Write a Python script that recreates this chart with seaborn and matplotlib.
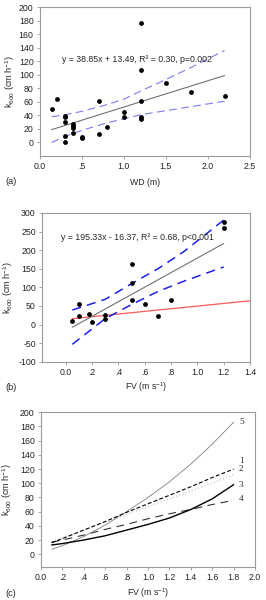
import numpy as np
import pandas as pd
import matplotlib
matplotlib.use("Agg")
from matplotlib import pyplot as plt
import seaborn as sns

# ---- panel (a): k600 vs water depth
wd = [0.14, 0.2, 0.3, 0.3, 0.3, 0.3, 0.3, 0.4, 0.4, 0.4, 0.4, 0.5, 0.5,
      0.7, 0.7, 0.8, 1.0, 1.0, 1.2, 1.2, 1.2, 1.2, 1.2, 1.5, 1.8, 2.2]
k_a = [49, 65, 39, 37, 31, 9, 1, 28, 25, 22, 14, 8, 6,
       62, 13, 23, 45, 37, 177, 107, 62, 37, 35, 88, 75, 69]
fit_a_x = [0.14, 2.2]
fit_a_y = [19, 99]
band_a_x = [0.14, 0.3, 0.5, 0.8, 1.0, 1.2, 1.5, 1.8, 2.2]
band_a_hi = [38, 41, 46, 56, 64, 76, 93, 111, 136]
band_a_lo = [0, 9, 18, 29, 35, 41, 47, 53, 61]
eq_a = "y = 38.85x + 13.49, R\u00b2 = 0.30, p=0.002"

# ---- panel (b): k600 vs flow velocity
fv = [0.05, 0.1, 0.1, 0.18, 0.2, 0.3, 0.3, 0.5, 0.5, 0.5, 0.6, 0.7, 0.8, 1.2, 1.2]
k_b = [9, 56, 22, 29, 6, 27, 14, 164, 113, 65, 55, 22, 67, 276, 261]
fit_b_x = [0.05, 1.2]
fit_b_y = [-7, 218]
band_b_x = [0.05, 0.3, 0.5, 0.7, 0.9, 1.2]
band_b_hi = [39, 68, 110, 150, 197, 281]
band_b_lo = [-53, 16, 54, 89, 117, 155]
red_x = [0.05, 1.4]
red_y = [16, 64]
eq_b = "y = 195.33x - 16.37, R\u00b2 = 0.68, p<0.001"

# ---- panel (c): model curves
fv_c = [0.1, 0.2, 0.4, 0.6, 0.8, 1.0, 1.2, 1.4, 1.6, 1.8]
c1 = [16, 22, 34, 46, 59, 71, 83, 95, 108, 120]
c2 = [18, 23, 34, 45, 56, 67, 78, 89, 100, 112]
c3 = [13, 15, 20, 26, 34, 42, 51, 63, 78, 98]
c4 = [17, 20, 27, 35, 42, 50, 57, 63, 70, 76]
c5 = [7, 12, 25, 41, 60, 80, 102, 127, 155, 186]
curve_names = ["1", "2", "3", "4", "5"]
curve_label_y = [131, 120, 98, 78, 186]

sns.set_style("ticks")
plt.rcParams['font.family'] = ['Liberation Sans', 'DejaVu Sans']
plt.rcParams['mathtext.fontset'] = 'custom'
plt.rcParams['mathtext.rm'] = 'Liberation Sans'
plt.rcParams['mathtext.it'] = 'Liberation Sans'

FS = 6.3
ylab = "k$_{600}$ (cm h$^{-1}$)"


def style(ax):
    for s in ax.spines.values():
        s.set_color('#9a9a9a')
        s.set_linewidth(0.8)
    ax.tick_params(colors='#9a9a9a', labelcolor='#222222', labelsize=FS,
                   length=2.5, width=0.6, pad=2)


def ticks(ax, xt, xl, yt):
    ax.set_xticks(xt)
    ax.set_xticklabels(xl)
    ax.set_yticks(yt)
    ax.set_yticklabels([str(v) for v in yt])


fig = plt.figure(figsize=(2.66, 6.0), dpi=100)

# (a)
ax = fig.add_axes([0.150, 0.740, 0.789, 0.248])
sns.lineplot(x=band_a_x, y=band_a_hi, ax=ax, color='#7a7af2', linewidth=0.8,
             linestyle=(0, (7, 4)))
sns.lineplot(x=band_a_x, y=band_a_lo, ax=ax, color='#7a7af2', linewidth=0.8,
             linestyle=(0, (7, 4)))
sns.lineplot(x=fit_a_x, y=fit_a_y, ax=ax, color='#707070', linewidth=0.8)
sns.scatterplot(x=wd, y=k_a, ax=ax, color='black', s=12, linewidth=0, zorder=5)
ax.set_xlim(0, 2.5)
ax.set_ylim(-20, 200)
ticks(ax, [0, 0.5, 1.0, 1.5, 2.0, 2.5], ["0.0", ".5", "1.0", "1.5", "2.0", "2.5"],
      list(range(0, 201, 20)))
ax.text(1.16, 123, eq_a, fontsize=FS, ha='center', va='center')
ax.set_xlabel("WD (m)", fontsize=FS, va='center')
ax.xaxis.set_label_coords(0.5, -0.175)
ax.set_ylabel(ylab, fontsize=6.6, va='center')
ax.yaxis.set_label_coords(-0.143, 0.5)
style(ax)
fig.text(5 / 266, 1 - 182 / 600, "(a)", fontsize=6.6, va='center')

# (b)
ax = fig.add_axes([0.158, 0.397, 0.782, 0.248])
sns.lineplot(x=red_x, y=red_y, ax=ax, color='#ff5a5a', linewidth=0.9)
sns.lineplot(x=band_b_x, y=band_b_hi, ax=ax, color='#1f1fe6', linewidth=1.1,
             linestyle=(0, (6, 4)))
sns.lineplot(x=band_b_x, y=band_b_lo, ax=ax, color='#1f1fe6', linewidth=1.1,
             linestyle=(0, (6, 4)))
sns.lineplot(x=fit_b_x, y=fit_b_y, ax=ax, color='#707070', linewidth=0.8)
sns.scatterplot(x=fv, y=k_b, ax=ax, color='black', s=12, linewidth=0, zorder=5)
ax.set_xlim(-0.18, 1.4)
ax.set_ylim(-100, 300)
ticks(ax, [0, 0.2, 0.4, 0.6, 0.8, 1.0, 1.2, 1.4],
      ["0.0", ".2", ".4", ".6", ".8", "1.0", "1.2", "1.4"],
      list(range(-100, 301, 50)))
ax.text(0.544, 233, eq_b, fontsize=FS, ha='center', va='center')
ax.set_xlabel("FV (m s$^{-1}$)", fontsize=FS, va='center')
ax.xaxis.set_label_coords(0.5, -0.168)
ax.set_ylabel(ylab, fontsize=6.6, va='center')
ax.yaxis.set_label_coords(-0.163, 0.5)
style(ax)
fig.text(5 / 266, 1 - 387 / 600, "(b)", fontsize=6.6, va='center')

# (c)
ax = fig.add_axes([0.154, 0.055, 0.805, 0.258])
sns.lineplot(x=fv_c, y=c2, ax=ax, color='#c8c8c8', linewidth=0.9, linestyle=':')
sns.lineplot(x=fv_c, y=c4, ax=ax, color='#333333', linewidth=0.8,
             linestyle=(0, (7, 5)))
sns.lineplot(x=fv_c, y=c5, ax=ax, color='#808080', linewidth=0.6)
sns.lineplot(x=fv_c, y=c1, ax=ax, color='black', linewidth=0.8,
             linestyle=(0, (3.5, 2)))
sns.lineplot(x=fv_c, y=c3, ax=ax, color='black', linewidth=1.0)
for name, yv in zip(curve_names, curve_label_y):
    ax.text(1.85, yv, name, fontsize=6.6, family=['Liberation Serif'],
            ha='left', va='center')
ax.set_xlim(0, 2.0)
ax.set_ylim(-18, 200)
ticks(ax, [0, 0.2, 0.4, 0.6, 0.8, 1.0, 1.2, 1.4, 1.6, 1.8, 2.0],
      ["0.0", ".2", ".4", ".6", ".8", "1.0", "1.2", "1.4", "1.6", "1.8", "2.0"],
      list(range(0, 201, 20)))
ax.set_xlabel("FV (m s$^{-1}$)", fontsize=FS, va='center')
ax.xaxis.set_label_coords(0.5, -0.168)
ax.set_ylabel(ylab, fontsize=6.6, va='center')
ax.yaxis.set_label_coords(-0.159, 0.5)
style(ax)
fig.text(5 / 266, 1 - 593 / 600, "(c)", fontsize=6.6, va='center')

fig.savefig("out.png", dpi=100)
